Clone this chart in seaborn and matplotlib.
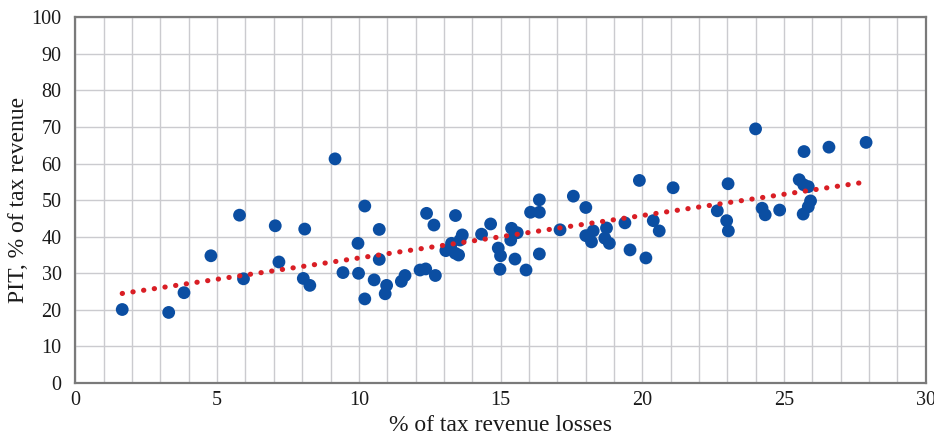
import numpy as np
import pandas as pd
import matplotlib
matplotlib.use("Agg")
import matplotlib.pyplot as plt
from matplotlib.ticker import MultipleLocator
import seaborn as sns

# Revenue losses (% of tax revenue) and PIT share (% of tax revenue) per country
revenue_losses = [
    1.65, 3.29, 3.83, 4.78, 5.79, 5.93, 7.05, 7.18, 8.09, 8.04,
    8.27, 9.16, 9.44, 9.97, 9.99, 10.21, 10.21, 10.54, 10.72, 10.72,
    10.98, 10.93, 11.50, 11.63, 12.16, 12.36, 12.39, 12.65, 12.70, 13.07,
    13.27, 13.40, 13.52, 13.57, 13.65, 13.41, 14.33, 14.65, 14.92, 15.00,
    14.98, 15.39, 15.36, 15.59, 15.51, 15.90, 16.06, 16.37, 16.37, 16.37,
    17.10, 17.57, 18.01, 18.01, 18.27, 18.21, 18.68, 18.74, 18.84, 19.39,
    19.57, 19.90, 20.13, 20.39, 20.60, 21.09, 22.65, 22.98, 23.04, 23.03,
    24.00, 24.23, 24.34, 24.85, 25.54, 25.70, 25.86, 25.71, 25.94, 25.86,
    25.68, 26.59, 27.90,
]
pit_share = [
    20.1, 19.3, 24.7, 34.8, 45.9, 28.5, 43.0, 33.1, 42.1, 28.6,
    26.7, 61.3, 30.2, 38.2, 30.0, 48.4, 23.0, 28.2, 42.0, 33.8,
    26.7, 24.4, 27.8, 29.4, 30.9, 31.2, 46.4, 43.2, 29.4, 36.2,
    38.2, 35.5, 35.0, 39.1, 40.5, 45.8, 40.7, 43.5, 36.9, 34.8,
    31.1, 42.3, 39.1, 41.1, 33.9, 30.9, 46.7, 50.1, 46.7, 35.3,
    41.9, 51.1, 48.0, 40.3, 41.6, 38.6, 39.6, 42.4, 38.2, 43.8,
    36.4, 55.4, 34.2, 44.4, 41.6, 53.4, 47.1, 44.4, 41.6, 54.5,
    69.5, 47.8, 46.0, 47.3, 55.6, 54.2, 53.7, 63.3, 49.8, 48.2,
    46.2, 64.5, 65.8,
]

x_ticks = [0, 5, 10, 15, 20, 25, 30]
y_ticks = [0, 10, 20, 30, 40, 50, 60, 70, 80, 90, 100]
x_label = "% of tax revenue losses"
y_label = "PIT, % of tax revenue"

df = pd.DataFrame({"losses": revenue_losses, "pit": pit_share})

sns.set_theme(style="white")
plt.rcParams["font.family"] = ["Liberation Serif", "DejaVu Serif"]

fig = plt.figure(figsize=(9.34, 4.34), dpi=100)
ax = fig.add_axes([0.0808, 0.1175, 0.9102, 0.8425])

sns.scatterplot(data=df, x="losses", y="pit", ax=ax, s=85,
                color="#0b4ea2", edgecolor="none", linewidth=0, zorder=3)

# Linear trendline over the data range, drawn as round red dots
sns.regplot(data=df, x="losses", y="pit", ax=ax, scatter=False, ci=None,
            truncate=True,
            line_kws=dict(color="#d91e25", lw=3.7, linestyle=(0, (0.05, 2.05)),
                          dash_capstyle="round", zorder=4))

ax.set_xlim(0, 30)
ax.set_ylim(0, 100)
ax.set_xticks(x_ticks)
ax.set_yticks(y_ticks)
ax.xaxis.set_minor_locator(MultipleLocator(1))
ax.grid(True, which="both", color="#cbcbcf", lw=1.0)
ax.set_axisbelow(True)
ax.tick_params(axis="both", which="both", length=0, labelsize=14.5,
               labelcolor="#1a1a1a")
ax.tick_params(axis="y", pad=10)
ax.tick_params(axis="x", pad=6)

for sp in ax.spines.values():
    sp.set_visible(True)
    sp.set_color("#7a7a7a")
    sp.set_linewidth(1.6)

ax.set_xlabel(x_label, fontsize=17, color="#1a1a1a", labelpad=3)
ax.set_ylabel(y_label, fontsize=17, color="#1a1a1a", labelpad=2)

fig.savefig("out.png", dpi=100)
